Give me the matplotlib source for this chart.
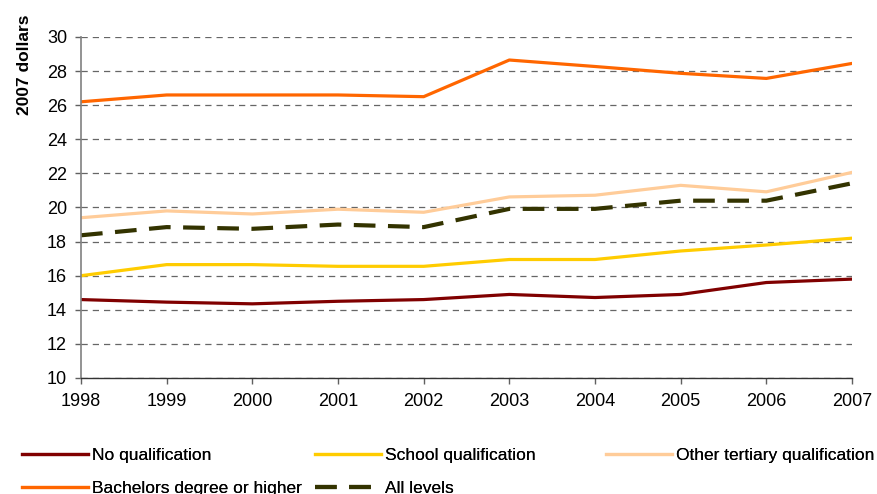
import matplotlib.pyplot as plt

plt.rcParams['font.family'] = ['Liberation Sans', 'DejaVu Sans']

# Data
years = [1998, 1999, 2000, 2001, 2002, 2003, 2004, 2005, 2006, 2007]
no_qual = [14.6, 14.45, 14.35, 14.5, 14.6, 14.9, 14.72, 14.9, 15.6, 15.8]
school_qual = [16.0, 16.65, 16.65, 16.55, 16.55, 16.95, 16.95, 17.45, 17.8, 18.2]
other_tertiary = [19.4, 19.8, 19.62, 19.9, 19.72, 20.62, 20.72, 21.3, 20.92, 22.06]
bachelors = [26.2, 26.6, 26.6, 26.6, 26.5, 28.65, 28.27, 27.87, 27.57, 28.45]
all_levels = [18.37, 18.85, 18.75, 19.0, 18.85, 19.92, 19.92, 20.4, 20.4, 21.42]
yticks = list(range(10, 31, 2))

W, H = 877, 494
fig = plt.figure(figsize=(W / 100, H / 100), dpi=100)
ax = fig.add_axes([81 / W, 1 - 378 / H, (852 - 81) / W, (378 - 37) / H])

# gridlines
ax.set_axisbelow(True)
ax.yaxis.grid(True, color='#666666', linestyle=(0, (5, 4)), linewidth=0.9)

h1, = ax.plot(years, no_qual, color='#800000', lw=2.3, label='No qualification')
h2, = ax.plot(years, school_qual, color='#FFCC00', lw=2.3, label='School qualification')
h3, = ax.plot(years, other_tertiary, color='#FFCC99', lw=2.3, label='Other tertiary qualification')
h4, = ax.plot(years, bachelors, color='#FF6600', lw=2.3, label='Bachelors degree or higher')
h5, = ax.plot(years, all_levels, color='#333300', lw=3.0, dashes=(5.2, 3.0), label='All levels')

ax.set_xlim(1998, 2007)
ax.set_ylim(10, 30)
ax.set_xticks(years)
ax.set_yticks(yticks)
ax.tick_params(labelsize=13, colors='black', length=4, width=1)
ax.tick_params(axis='both', color='#606060')
ax.tick_params(axis='x', pad=7)
ax.tick_params(axis='y', pad=6)

for s in ['top', 'right']:
    ax.spines[s].set_visible(False)
ax.spines['left'].set_color('#808080')
ax.spines['left'].set_linewidth(1.2)
ax.spines['bottom'].set_color('#333333')
ax.spines['bottom'].set_linewidth(1.0)

ax.set_ylabel('2007 dollars', fontsize=12.5, fontweight='bold')
ax.yaxis.set_label_coords(-0.064, 0.918)

# legend: three one-column legends placed like the original rows
cols = [([h1, h4], 22), ([h2, h5], 315), ([h3], 606)]
for handles, xpix in cols:
    leg = fig.legend(handles, [h.get_label() for h in handles],
                     loc='upper left', bbox_to_anchor=(xpix / W, 1 - 448 / H),
                     frameon=False, fontsize=12.5, handlelength=3.8,
                     handletextpad=0.25, labelspacing=1.0,
                     borderpad=0, borderaxespad=0)
    fig.add_artist(leg)

fig.savefig('out.png', dpi=100)
